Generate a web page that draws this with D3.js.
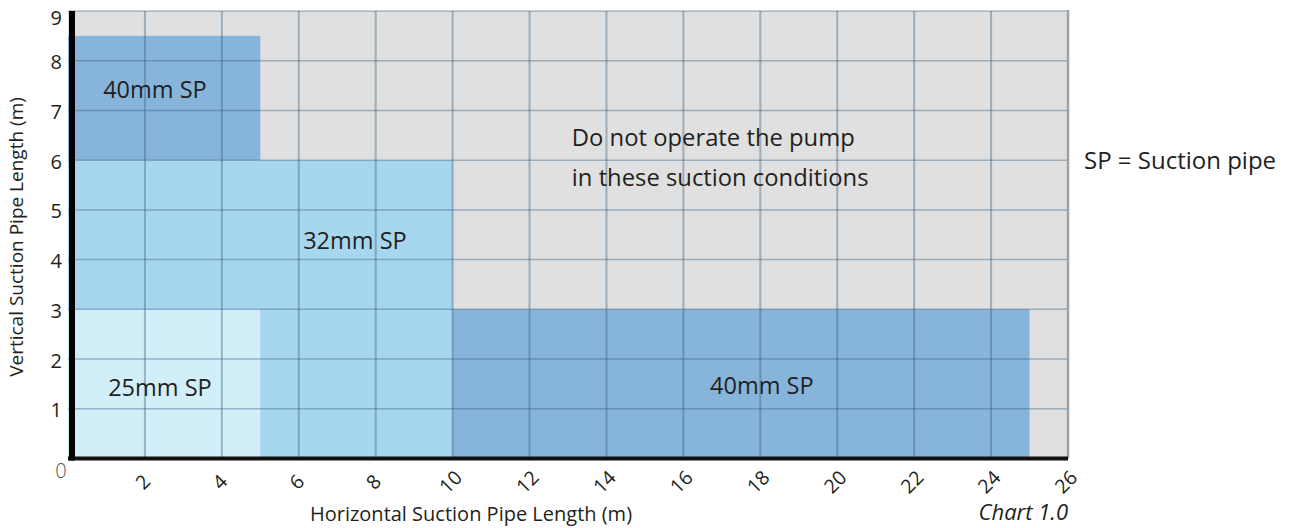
<!DOCTYPE html>
<html>
<head>
<meta charset="utf-8">
<script src="https://cdn.jsdelivr.net/npm/d3@7"></script>
<style>
  body { margin: 0; background: #fff; }
  text { font-family: "Open Sans", "Noto Sans", sans-serif; fill: #231f20; }
</style>
</head>
<body>
<div id="chart"></div>
<script>
// chart data
const xTicks = [2, 4, 6, 8, 10, 12, 14, 16, 18, 20, 22, 24, 26];
const yTicks = [1, 2, 3, 4, 5, 6, 7, 8, 9];
const xGrid = [2, 4, 6, 8, 10, 12, 14, 16, 18, 20, 22, 24, 26];
const yGrid = [1, 2, 3, 4, 5, 6, 7, 8, 9];

// safe operating zones (metres), drawn in this order
const zonePipe = [32, 25, 40, 40];
const zoneX0 = [0, 0, 0, 10];
const zoneX1 = [10, 5, 5, 25];
const zoneY0 = [0, 0, 6, 0];
const zoneY1 = [6, 3, 8.5, 3];

const zoneLabels = ['40mm SP', '25mm SP', '32mm SP', '40mm SP'];
const warning = ['Do not operate the pump', 'in these suction conditions'];

let width = 1290, height = 528;
let margin = { top: 11, left: 68, right: 222, bottom: 69.5 };

let svg = d3.select('#chart')
  .append('svg')
  .attr('width', width)
  .attr('height', height);

let x = d3.scaleLinear().domain([0, 26]).range([margin.left, width - margin.right]);
let y = d3.scaleLinear().domain([0, 9]).range([height - margin.bottom, margin.top]);

const fills = { 25: '#d1eef9', 32: '#a6d7ef', 40: '#86b4da' };

// background
svg.append('rect')
  .attr('x', x(0))
  .attr('y', y(9))
  .attr('width', x(26) - x(0))
  .attr('height', y(0) - y(9))
  .attr('fill', '#dfe0df');

// zones
svg.selectAll('.zone')
  .data(d3.range(zonePipe.length))
  .join('rect')
  .attr('class', 'zone')
  .attr('x', i => x(zoneX0[i]))
  .attr('y', i => y(zoneY1[i]))
  .attr('width', i => x(zoneX1[i]) - x(zoneX0[i]))
  .attr('height', i => y(zoneY0[i]) - y(zoneY1[i]))
  .attr('fill', i => fills[zonePipe[i]]);

// grid on top
let grid = svg.append('g').attr('stroke', '#3a5f80').attr('stroke-opacity', 0.4);
grid.selectAll('.vg')
  .data(xGrid.slice(0, -1))
  .join('line')
  .attr('x1', d => x(d)).attr('x2', d => x(d))
  .attr('y1', y(9)).attr('y2', y(0))
  .attr('stroke-width', 2);
grid.selectAll('.hg')
  .data(yGrid)
  .join('line')
  .attr('x1', x(0)).attr('x2', x(26))
  .attr('y1', d => y(d)).attr('y2', d => y(d))
  .attr('stroke-width', 1.5);

// right border
svg.append('line')
  .attr('x1', x(26)).attr('x2', x(26))
  .attr('y1', y(9) - 1).attr('y2', y(0))
  .attr('stroke', '#a0a1a3')
  .attr('stroke-width', 2.5);

// axes
svg.append('line')
  .attr('x1', x(0)).attr('x2', x(26))
  .attr('y1', y(0)).attr('y2', y(0))
  .attr('stroke', '#111')
  .attr('stroke-width', 4);
svg.append('line')
  .attr('x1', x(0) + 4).attr('x2', x(0) + 4)
  .attr('y1', y(9)).attr('y2', y(0) + 2)
  .attr('stroke', '#000')
  .attr('stroke-width', 6);

// y tick labels
let yAxis = svg.append('g')
  .attr('transform', `translate(${x(0)},0)`)
  .call(d3.axisLeft(y).tickValues(yTicks).tickSize(0).tickPadding(6).tickFormat(d3.format('d')));
yAxis.select('.domain').remove();
yAxis.selectAll('text')
  .attr('font-size', 20)
  .attr('font-family', '"Open Sans", sans-serif')
  .attr('fill', '#231f20')
  .attr('dy', d => d === 9 ? '0.68em' : '0.4em');

// x tick labels
let xAxis = svg.append('g')
  .attr('transform', `translate(0,${y(0)})`)
  .call(d3.axisBottom(x).tickValues(xTicks).tickSize(0).tickFormat(d3.format('d')));
xAxis.select('.domain').remove();
xAxis.selectAll('text')
  .attr('font-size', 19.5)
  .attr('font-family', '"Open Sans", sans-serif')
  .attr('fill', '#231f20')
  .attr('text-anchor', 'middle')
  .attr('y', 0)
  .attr('dy', 0)
  .attr('transform', 'translate(-3,23) rotate(-45)')
  .attr('dominant-baseline', 'central');

// origin label
svg.append('text')
  .attr('x', x(0) - 7)
  .attr('y', y(0) + 19)
  .attr('text-anchor', 'middle')
  .attr('font-size', 20)
  .attr('font-weight', 300)
  .style('fill', '#555')
  .text('0');

// axis titles
svg.append('text')
  .attr('x', 471)
  .attr('y', 521)
  .attr('text-anchor', 'middle')
  .attr('font-size', 20)
  .text('Horizontal Suction Pipe Length (m)');

svg.append('text')
  .attr('transform', 'translate(23,237) rotate(-90)')
  .attr('text-anchor', 'middle')
  .attr('font-size', 19)
  .text('Vertical Suction Pipe Length (m)');

// zone labels (centres in chart units)
const labelX = [2.26, 2.39, 7.46, 18.04];
const labelY = [7.43, 1.42, 4.39, 1.46];
svg.selectAll('.zl')
  .data(zoneLabels)
  .join('text')
  .attr('x', (d, i) => x(labelX[i]))
  .attr('y', (d, i) => y(labelY[i]))
  .attr('dy', '0.36em')
  .attr('text-anchor', 'middle')
  .attr('font-size', 23.5)
  .text(d => d);

svg.selectAll('.warn')
  .data(warning)
  .join('text')
  .attr('x', x(13.1))
  .attr('y', (d, i) => y(6.45 - i * 0.8))
  .attr('dy', '0.36em')
  .attr('font-size', 23.8)
  .text(d => d);

svg.append('text')
  .attr('x', 1084)
  .attr('y', y(6.0))
  .attr('dy', '0.36em')
  .attr('font-size', 24)
  .text('SP = Suction pipe');

svg.append('text')
  .attr('x', x(26))
  .attr('y', 520)
  .attr('text-anchor', 'end')
  .attr('font-size', 22)
  .attr('font-style', 'italic')
  .text('Chart 1.0');
</script>
</body>
</html>
